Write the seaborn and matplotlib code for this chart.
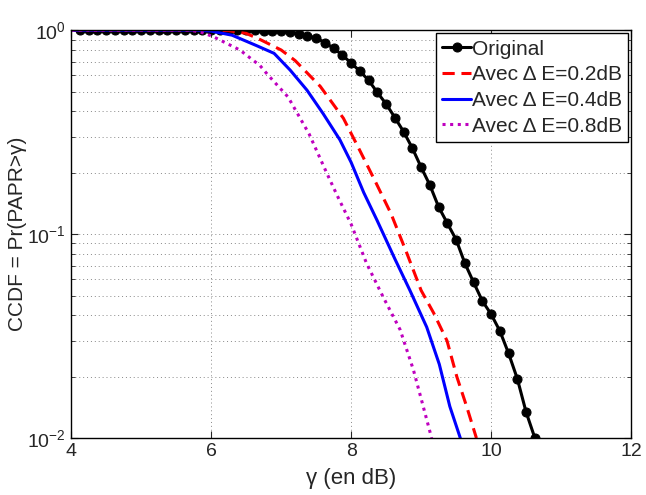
import matplotlib
matplotlib.use("Agg")
import matplotlib.pyplot as plt
import matplotlib.ticker as mticker
import seaborn as sns

# --- data ---
gamma_orig = [4.125, 4.25, 4.375, 4.5, 4.625, 4.75, 4.875, 5.0, 5.125, 5.25,
              5.375, 5.5, 5.625, 5.75, 5.875, 6.0, 6.125, 6.25, 6.375, 6.5,
              6.625, 6.75, 6.875, 7.0, 7.125, 7.25, 7.375, 7.5, 7.625, 7.75,
              7.875, 8.0, 8.125, 8.25, 8.375, 8.5, 8.625, 8.75, 8.875, 9.0,
              9.125, 9.25, 9.375, 9.5, 9.625, 9.75, 9.875, 10.0, 10.125, 10.25,
              10.375, 10.5, 10.625]
ccdf_orig = [1.0, 1.0, 1.0, 1.0, 1.0, 1.0, 1.0, 1.0, 1.0, 1.0,
             1.0, 1.0, 1.0, 1.0, 1.0, 1.0, 1.0, 0.999, 0.999, 0.998,
             0.997, 0.995, 0.993, 0.99, 0.978, 0.958, 0.938, 0.915, 0.87, 0.815,
             0.755, 0.69, 0.63, 0.568, 0.495, 0.435, 0.373, 0.318, 0.264, 0.213,
             0.174, 0.136, 0.113, 0.094, 0.072, 0.058, 0.047, 0.0405, 0.0335, 0.026,
             0.0195, 0.0134, 0.01]

gamma_02 = [4.0, 6.0, 6.25, 6.5, 6.7, 7.0, 7.2, 7.56, 7.89, 8.13, 8.35, 8.57,
            8.8, 9.0, 9.18, 9.37, 9.51, 9.65, 9.79]
ccdf_02 = [1.0, 1.0, 0.995, 0.965, 0.9, 0.8, 0.71, 0.53, 0.37, 0.255, 0.18, 0.126,
           0.08, 0.053, 0.041, 0.030, 0.020, 0.0143, 0.01]

gamma_04 = [4.0, 5.8, 6.0, 6.3, 6.65, 6.9, 7.13, 7.37, 7.6, 7.84, 8.0, 8.18,
            8.37, 8.63, 8.84, 9.08, 9.26, 9.41, 9.56]
ccdf_04 = [1.0, 1.0, 0.99, 0.945, 0.84, 0.77, 0.637, 0.508, 0.39, 0.29, 0.225, 0.16,
           0.117, 0.075, 0.053, 0.035, 0.023, 0.0143, 0.01]

gamma_08 = [4.0, 5.7, 5.85, 6.03, 6.41, 6.7, 6.8, 7.1, 7.4, 7.65, 7.8, 8.0,
            8.22, 8.46, 8.7, 8.89, 9.03, 9.15]
ccdf_08 = [1.0, 1.0, 0.98, 0.93, 0.80, 0.67, 0.61, 0.47, 0.31, 0.2, 0.155, 0.112,
           0.072, 0.049, 0.034, 0.0216, 0.0143, 0.01]

labels = ["Original", "Avec \u0394 E=0.2dB", "Avec \u0394 E=0.4dB", "Avec \u0394 E=0.8dB"]

sns.set_style("ticks")
plt.rcParams["font.family"] = ["Liberation Sans", "DejaVu Sans"]
plt.rcParams["mathtext.fontset"] = "custom"
plt.rcParams["mathtext.rm"] = "Liberation Sans"
plt.rcParams["mathtext.it"] = "Liberation Sans:italic"

fig = plt.figure(figsize=(6.46, 4.95), dpi=100)
ax = fig.add_axes([0.110, 0.115, 0.867, 0.824])

sns.lineplot(x=gamma_orig, y=ccdf_orig, ax=ax, color="black", lw=2.2,
             marker="o", markersize=6.5, markeredgecolor="black", label=labels[0])
sns.lineplot(x=gamma_02, y=ccdf_02, ax=ax, color="#ff0000", lw=2.2,
             label=labels[1]).lines[-1].set_dashes([4, 2.2])
sns.lineplot(x=gamma_04, y=ccdf_04, ax=ax, color="#0000ff", lw=2.2, label=labels[2])
sns.lineplot(x=gamma_08, y=ccdf_08, ax=ax, color="#bf00bf", lw=2.2,
             label=labels[3]).lines[-1].set_dashes([1, 1.5])

ax.set_yscale("log")
ax.set_xlim(4, 12)
ax.set_ylim(0.01, 1)
ax.set_xticks([4, 6, 8, 10, 12])
ax.yaxis.set_major_locator(mticker.LogLocator(base=10))
ax.yaxis.set_minor_locator(mticker.LogLocator(base=10, subs=range(2, 10)))
ax.yaxis.set_minor_formatter(mticker.NullFormatter())

ax.grid(True, which="major", axis="both", linestyle=(0, (1, 3)), color="#888888", lw=0.7)
ax.grid(True, which="minor", axis="y", linestyle=(0, (1, 3)), color="#888888", lw=0.7)
ax.tick_params(which="both", direction="in", top=True, right=True, labelsize=14)
ax.tick_params(which="major", length=5)
ax.tick_params(which="minor", length=3)
for s in ax.spines.values():
    s.set_linewidth(1.0)
    s.set_color("black")

ax.set_xlabel("\u03b3 (en dB)", fontsize=16, labelpad=6)
ax.set_ylabel("CCDF = Pr(PAPR>\u03b3)", fontsize=15, labelpad=0)

leg = ax.legend(loc="upper right", fontsize=15, frameon=True, fancybox=False,
                borderaxespad=0.15, borderpad=0.3, labelspacing=0.32,
                handlelength=1.35, handletextpad=0.05)
leg.get_frame().set_edgecolor("black")
leg.get_frame().set_linewidth(1.0)
leg.get_frame().set_alpha(1)

fig.savefig("out.png", dpi=100)
